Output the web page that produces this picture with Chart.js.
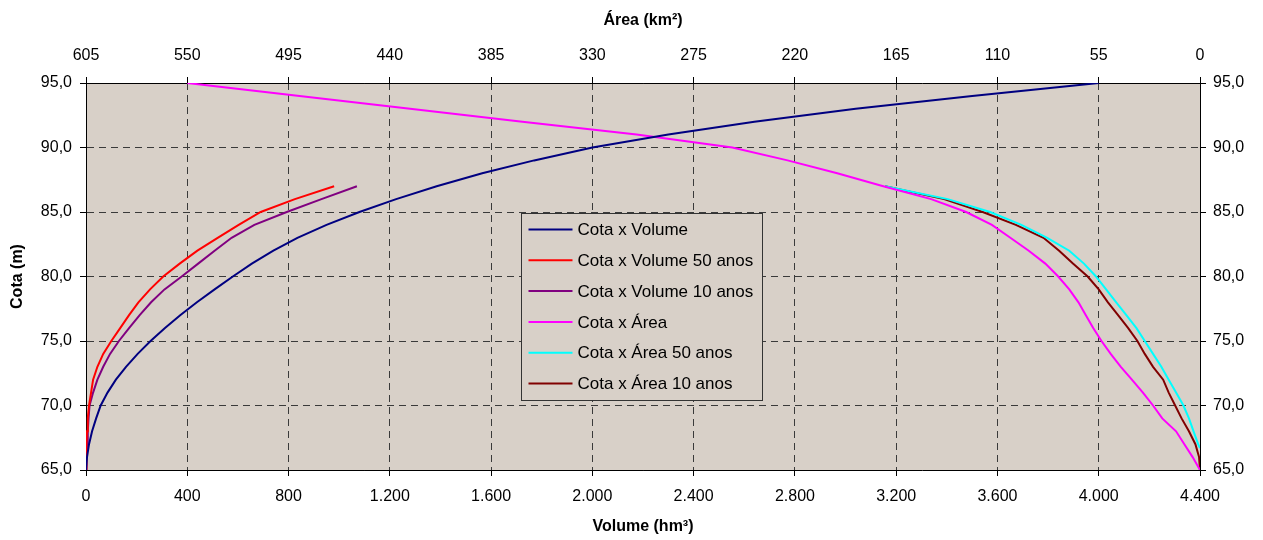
<!DOCTYPE html>
<html lang="pt">
<head>
    <meta charset="UTF-8">
    <title>Cota x Volume / Cota x Área</title>
    <script src="https://cdn.jsdelivr.net/npm/chart.js"></script>
    <style>
        body { margin: 0; background: #fff; }
        #chart { display: block; }
    </style>
</head>
<body>
    <canvas id="chart" width="1263" height="540"></canvas>

    <script>
        // Cotas (m)
        const cotas = [65, 66, 67, 68, 69, 70, 71, 72, 73, 74, 75, 76, 77, 78, 79, 80,
                       81, 82, 83, 84, 85, 86, 87, 88, 89, 90, 91, 92, 93, 94, 95];
        const cotasAssoreadas = [65, 66, 67, 68, 69, 70, 71, 72, 73, 74, 75, 76, 77, 78, 79, 80,
                                 81, 82, 83, 84, 85, 86, 87];
        const cotasArea50 = [66.7, 67, 68, 69, 70, 71, 72, 73, 74, 75, 76, 77, 78, 79, 80,
                             81, 82, 83, 84, 85, 86, 87];

        // Volume (hm3)
        const volume = [0, 4, 12, 24, 40, 58, 85, 118, 158, 204, 255, 312, 372, 438, 508, 580,
                        655, 740, 835, 950, 1080, 1225, 1385, 1565, 1770, 2000, 2300, 2640, 3040, 3500, 4000];
        const volume50 = [0, 1, 2, 4, 7, 12, 20, 28, 45, 68, 100, 135, 170, 207, 253, 305,
                          370, 440, 520, 603, 690, 825, 980];
        const volume10 = [0, 2, 4, 7, 10, 14, 28, 45, 68, 95, 130, 170, 212, 257, 310, 378,
                          443, 508, 575, 665, 793, 930, 1070];

        // Área (km2)
        const area = [0, 4, 8.5, 13, 20.5, 25.5, 31, 37, 43, 48.5, 53.5, 58, 62, 66, 71, 77,
                      84, 93, 103, 113, 127, 146, 172, 197, 224, 254, 306, 368, 429, 489, 550];
        const area50 = [0, 1, 3.5, 6, 9, 13, 17, 21, 25.5, 30, 34.5, 40, 45.5, 51, 56.5,
                        63, 71, 83, 97, 114, 137, 171];
        const area10 = [0, 0.5, 2.5, 6, 10, 13.5, 17, 20, 25.5, 30, 34, 39, 44.5, 50, 55, 61,
                        69, 76.5, 85, 100, 118, 139, 171];

        const seriesNames = ['Cota x Volume', 'Cota x Volume 50 anos', 'Cota x Volume 10 anos',
                             'Cota x Área', 'Cota x Área 50 anos', 'Cota x Área 10 anos'];
        const seriesColors = ['#000080', '#ff0000', '#800080', '#ff00ff', '#00ffff', '#800000'];

        const FONT = "'Liberation Sans', Arial, sans-serif";

        function pares(xs, ys) {
            return xs.map((v, i) => ({ x: v, y: ys[i] }));
        }

        function milhar(v) {
            return String(v).replace(/\B(?=(\d{3})+(?!\d))/g, '.');
        }

        function serie(i, xs, ys, eixoX) {
            return {
                label: seriesNames[i],
                data: pares(xs, ys),
                borderColor: seriesColors[i],
                backgroundColor: seriesColors[i],
                borderWidth: 2,
                pointRadius: 0,
                showLine: true,
                tension: 0,
                xAxisID: eixoX,
                yAxisID: 'y'
            };
        }

        // fundo da área de plotagem
        const fundo = {
            id: 'fundo',
            beforeDraw(chart) {
                const { ctx, chartArea: a } = chart;
                ctx.save();
                ctx.fillStyle = '#d8d0c8';
                ctx.fillRect(a.left, a.top, a.right - a.left, a.bottom - a.top);
                ctx.restore();
            }
        };

        // legenda dentro do gráfico
        const legendaInterna = {
            id: 'legendaInterna',
            afterDatasetsDraw(chart) {
                const { ctx, chartArea: a } = chart;
                const x0 = Math.round(a.left + 435) + 0.5;
                const y0 = Math.round(a.top + 130) + 0.5;
                const w = 241, h = 187;
                ctx.save();
                ctx.fillStyle = '#d8d0c8';
                ctx.fillRect(x0, y0, w, h);
                ctx.strokeStyle = '#333';
                ctx.lineWidth = 1;
                ctx.strokeRect(x0, y0, w, h);
                ctx.font = '17px ' + FONT;
                ctx.textBaseline = 'middle';
                ctx.fillStyle = '#000';
                chart.data.datasets.forEach((ds, i) => {
                    const yy = y0 + 16 + i * 30.8;
                    ctx.strokeStyle = ds.borderColor;
                    ctx.lineWidth = 2;
                    ctx.beginPath();
                    ctx.moveTo(x0 + 7, yy);
                    ctx.lineTo(x0 + 51, yy);
                    ctx.stroke();
                    ctx.fillText(ds.label, x0 + 56, yy + 1);
                });
                ctx.restore();
            }
        };

        const tickFont = { family: FONT, size: 16 };
        const titleFont = { family: FONT, size: 16, weight: 'bold' };

        const ctx = document.getElementById('chart').getContext('2d');
        const chart = new Chart(ctx, {
            type: 'scatter',
            data: {
                datasets: [
                    serie(0, volume, cotas, 'x'),
                    serie(1, volume50, cotasAssoreadas, 'x'),
                    serie(2, volume10, cotasAssoreadas, 'x'),
                    serie(3, area, cotas, 'x2'),
                    serie(4, area50, cotasArea50, 'x2'),
                    serie(5, area10, cotasAssoreadas, 'x2')
                ]
            },
            options: {
                responsive: false,
                animation: false,
                layout: { padding: 0 },
                plugins: {
                    legend: { display: false },
                    tooltip: { enabled: false }
                },
                scales: {
                    x: {
                        type: 'linear',
                        position: 'bottom',
                        min: 0,
                        max: 4400,
                        afterFit: s => { s.height = 70; },
                        ticks: {
                            stepSize: 400,
                            color: '#000',
                            font: tickFont,
                            padding: 11,
                            maxRotation: 0,
                            callback: v => milhar(v)
                        },
                        grid: { color: '#3a3a3a', tickColor: '#000', tickLength: 6 },
                        border: { color: '#000', width: 1, dash: [7, 5] },
                        title: { display: true, text: 'Volume (hm³)', color: '#000', font: titleFont, padding: { top: 0, bottom: 4 } }
                    },
                    x2: {
                        type: 'linear',
                        position: 'top',
                        min: 0,
                        max: 605,
                        reverse: true,
                        afterFit: s => { s.height = 83; },
                        ticks: { stepSize: 55, color: '#000', font: tickFont, padding: 12, maxRotation: 0 },
                        grid: { drawOnChartArea: false, tickColor: '#000', tickLength: 6 },
                        border: { color: '#000', width: 1 },
                        title: { display: true, text: 'Área (km²)', color: '#000', font: titleFont, padding: { top: 11, bottom: 0 } }
                    },
                    y: {
                        type: 'linear',
                        position: 'left',
                        min: 65,
                        max: 95,
                        afterFit: s => { s.width = 86; },
                        ticks: {
                            stepSize: 5,
                            color: '#000',
                            font: tickFont,
                            padding: 8,
                            callback: v => v.toFixed(1).replace('.', ',')
                        },
                        grid: { color: '#3a3a3a', tickColor: '#000', tickLength: 6 },
                        border: { color: '#000', width: 1, dash: [7, 5] },
                        title: { display: true, text: 'Cota (m)', color: '#000', font: titleFont, padding: { top: 8, bottom: 0 } }
                    },
                    y2: {
                        type: 'linear',
                        position: 'right',
                        min: 65,
                        max: 95,
                        afterFit: s => { s.width = 63; },
                        ticks: {
                            stepSize: 5,
                            color: '#000',
                            font: tickFont,
                            padding: 7,
                            callback: v => v.toFixed(1).replace('.', ',')
                        },
                        grid: { drawOnChartArea: false, tickColor: '#000', tickLength: 6 },
                        border: { color: '#000', width: 1 }
                    }
                }
            },
            plugins: [fundo, legendaInterna]
        });
    </script>
</body>
</html>
